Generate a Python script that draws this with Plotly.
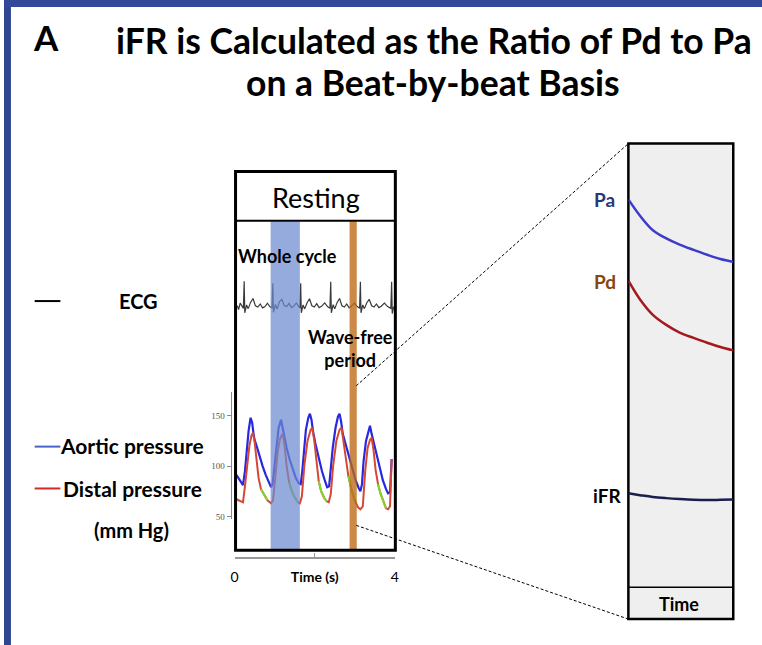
import plotly.graph_objects as go

W, H = 762, 645

# ---------------- data ----------------
# ECG (arbitrary units, baseline 0, R peak ~1)
ecg_t = [0.07, 0.10, 0.14, 0.18, 0.22, 0.24, 0.255, 0.30, 0.34, 0.40, 0.46, 0.52, 0.58, 0.64, 0.70, 0.76,
         0.82, 0.88, 0.935, 0.955, 0.97, 1.02, 1.06, 1.12, 1.18, 1.24, 1.30, 1.36, 1.42, 1.48, 1.54, 1.60,
         1.63, 1.65, 1.665, 1.71, 1.75, 1.81, 1.87, 1.93, 1.99, 2.05, 2.11, 2.17, 2.25, 2.32, 2.38, 2.40,
         2.415, 2.46, 2.50, 2.56, 2.62, 2.68, 2.74, 2.80, 2.86, 2.92, 2.99, 3.06, 3.12, 3.14, 3.155, 3.20,
         3.24, 3.30, 3.36, 3.42, 3.48, 3.54, 3.60, 3.66, 3.74, 3.82, 3.90, 3.92, 3.935, 3.97]
ecg_v = [0.05, -0.10, 0.15, 0.02, -0.05, 1.00, -0.22, 0.08, -0.06, 0.18, 0.33, 0.05, 0.00, 0.12, -0.03, 0.02,
         0.15, 0.02, -0.04, 0.92, -0.20, 0.10, -0.08, 0.20, 0.30, 0.06, 0.02, 0.14, -0.02, 0.04, 0.16, 0.03,
         -0.04, 0.92, -0.22, 0.08, -0.07, 0.17, 0.32, 0.05, 0.00, 0.13, -0.02, 0.03, 0.16, 0.02, -0.05, 0.98,
         -0.22, 0.09, -0.07, 0.18, 0.33, 0.05, 0.00, 0.12, -0.03, 0.04, 0.15, 0.02, -0.05, 0.98, -0.22, 0.08,
         -0.06, 0.17, 0.30, 0.05, 0.00, 0.12, -0.02, 0.03, 0.15, 0.02, -0.05, 0.98, -0.25, 0.02]

# Aortic pressure (mm Hg)
aortic_t = [0.05, 0.12, 0.21, 0.26, 0.30, 0.35, 0.40, 0.44, 0.47, 0.50, 0.55, 0.62, 0.70, 0.78, 0.86, 0.91,
            0.95, 1.00, 1.05, 1.10, 1.16, 1.20, 1.24, 1.30, 1.38, 1.46, 1.53, 1.60, 1.65, 1.69, 1.73, 1.78,
            1.84, 1.88, 1.92, 1.96, 2.02, 2.10, 2.18, 2.25, 2.31, 2.36, 2.40, 2.45, 2.52, 2.58, 2.62, 2.66,
            2.70, 2.78, 2.86, 2.94, 3.02, 3.10, 3.14, 3.18, 3.22, 3.28, 3.34, 3.38, 3.42, 3.46, 3.54, 3.62,
            3.70, 3.78, 3.83, 3.88, 3.92]
aortic_v = [91, 86, 81, 95, 112, 135, 148, 143, 133, 126, 120, 110, 100, 91, 83, 79,
            82, 100, 122, 138, 146, 138, 128, 118, 106, 96, 88, 83, 82, 95, 118, 136,
            148, 152, 146, 134, 122, 108, 95, 86, 79, 80, 96, 118, 138, 149, 152, 144,
            132, 120, 108, 96, 86, 78, 75, 82, 105, 125, 136, 140, 132, 125, 112, 98,
            86, 77, 73, 74, 107]

# Distal pressure (mm Hg)
distal_t = [0.05, 0.10, 0.21, 0.26, 0.31, 0.37, 0.42, 0.46, 0.50, 0.55, 0.60, 0.66, 0.74, 0.82, 0.91,
            0.96, 1.02, 1.08, 1.14, 1.20, 1.25, 1.30, 1.36, 1.42, 1.50, 1.58, 1.63, 1.68, 1.74, 1.82, 1.90,
            1.94, 1.99, 2.05, 2.10, 2.16, 2.24, 2.30, 2.35, 2.40, 2.46, 2.54, 2.62, 2.67, 2.72, 2.78, 2.84,
            2.92, 3.00, 3.08, 3.14, 3.20, 3.26, 3.32, 3.38, 3.42, 3.47, 3.52, 3.58, 3.64, 3.72, 3.78, 3.83,
            3.88, 3.92]
distal_v = [67, 66, 64, 80, 100, 120, 130, 133, 124, 105, 88, 77, 71, 66, 63,
            66, 90, 115, 128, 132, 120, 100, 84, 76, 69, 64, 63, 70, 100, 125, 136,
            138, 125, 100, 85, 75, 68, 65, 64, 72, 100, 125, 136, 138, 125, 106, 90,
            76, 66, 59, 57, 60, 95, 118, 126, 128, 115, 96, 82, 73, 64, 58, 57,
            60, 107]

# Wave-free (diastolic) windows highlighted in green, seconds
wf_start = [0.62, 1.36, 2.07, 2.83, 3.58]
wf_end = [0.90, 1.60, 2.31, 3.05, 3.80]

# Highlighted bands (seconds)
whole_cycle = [0.90, 1.63]
wave_free = [2.87, 3.05]

# Zoomed wave-free period (right panel)
zoom_t = [2.870, 2.890, 2.912, 2.935, 2.958, 2.982, 3.005, 3.028, 3.050]
pa_zoom = [96.0, 92.6, 89.6, 87.9, 86.6, 85.5, 84.5, 83.6, 83.0]
pd_zoom = [79.1, 75.2, 72.0, 69.9, 68.3, 67.2, 66.2, 65.3, 64.6]
ifr_zoom = [0.800, 0.797, 0.794, 0.792, 0.7905, 0.7893, 0.7888, 0.7892, 0.7897]

pressure_ticks = [50, 100, 150]
time_ticks = [0, 2, 4]
time_ticktext = ["0", "<b>Time (s)</b>", "4"]

# ---------------- helpers ----------------
def X(px):
    return px / W


def Y(py):
    return 1 - py / H


FONT = "Lato"
BLUE = "rgb(40,40,225)"
RED = "rgb(214,72,52)"
GREEN = "rgb(125,215,45)"

fig = go.Figure()

# ECG
fig.add_trace(go.Scatter(x=ecg_t, y=ecg_v, xaxis="x2", yaxis="y2", mode="lines",
                         line=dict(color="#3a3a3a", width=1.2), hoverinfo="skip"))
# Pressures
fig.add_trace(go.Scatter(x=aortic_t, y=aortic_v, xaxis="x", yaxis="y", mode="lines",
                         line=dict(color=BLUE, width=2.2), name="Aortic pressure"))
fig.add_trace(go.Scatter(x=distal_t, y=distal_v, xaxis="x", yaxis="y", mode="lines",
                         line=dict(color=RED, width=2), name="Distal pressure"))
# green wave-free segments on the distal trace
gx, gy = [], []
for s, e in zip(wf_start, wf_end):
    for t, v in zip(distal_t, distal_v):
        if s <= t <= e:
            gx.append(t)
            gy.append(v)
    gx.append(None)
    gy.append(None)
fig.add_trace(go.Scatter(x=gx, y=gy, xaxis="x", yaxis="y", mode="lines",
                         line=dict(color=GREEN, width=2), connectgaps=False, hoverinfo="skip"))

# Right panel
fig.add_trace(go.Scatter(x=zoom_t, y=pa_zoom, xaxis="x3", yaxis="y3", mode="lines",
                         line=dict(color="rgb(60,60,200)", width=2.5, shape="spline"), name="Pa"))
fig.add_trace(go.Scatter(x=zoom_t, y=pd_zoom, xaxis="x3", yaxis="y3", mode="lines",
                         line=dict(color="rgb(165,25,30)", width=2.5, shape="spline"), name="Pd"))
fig.add_trace(go.Scatter(x=zoom_t, y=ifr_zoom, xaxis="x3", yaxis="y4", mode="lines",
                         line=dict(color="rgb(25,30,75)", width=2.5, shape="spline"), name="iFR"))

shapes = []
# blue frame
shapes.append(dict(type="rect", xref="paper", yref="paper", x0=0, x1=X(7), y0=-0.02, y1=1.01,
                   fillcolor="#30458f", line=dict(width=0), layer="below"))
shapes.append(dict(type="rect", xref="paper", yref="paper", x0=0, x1=1.01, y0=Y(7), y1=1.01,
                   fillcolor="#34489a", line=dict(width=0), layer="below"))
# right panel box (fill)
shapes.append(dict(type="rect", xref="paper", yref="paper", x0=X(631), x1=X(737), y0=Y(621), y1=Y(144),
                   fillcolor="#efefef", line=dict(color="black", width=2.5), layer="below"))
shapes.append(dict(type="line", xref="paper", yref="paper", x0=X(631), x1=X(737), y0=Y(589), y1=Y(589),
                   line=dict(color="black", width=1.5), layer="below"))
# bands (above traces, semi-transparent)
shapes.append(dict(type="rect", xref="x", yref="paper", x0=whole_cycle[0], x1=whole_cycle[1],
                   y0=Y(551), y1=Y(222), fillcolor="rgb(110,138,208)", opacity=0.72,
                   line=dict(width=0), layer="above"))
shapes.append(dict(type="rect", xref="x", yref="paper", x0=wave_free[0], x1=wave_free[1],
                   y0=Y(551), y1=Y(222), fillcolor="rgb(190,105,20)", opacity=0.78,
                   line=dict(width=0), layer="above"))
# left box
shapes.append(dict(type="rect", xref="paper", yref="paper", x0=X(234), x1=X(395.5), y0=Y(552), y1=Y(172),
                   line=dict(color="black", width=3), layer="above"))
shapes.append(dict(type="line", xref="paper", yref="paper", x0=X(234), x1=X(395.5), y0=Y(221.5), y1=Y(221.5),
                   line=dict(color="black", width=2), layer="above"))
# dashed zoom lines
shapes.append(dict(type="line", xref="paper", yref="paper", x0=X(356), y0=Y(387), x1=X(631), y1=Y(144),
                   line=dict(color="black", width=1, dash="3px,2px"), layer="above"))
shapes.append(dict(type="line", xref="paper", yref="paper", x0=X(356), y0=Y(527), x1=X(631), y1=Y(621),
                   line=dict(color="black", width=1, dash="3px,2px"), layer="above"))
# legend keys
for ypx, col in [(302, "black"), (448, "rgb(70,100,200)"), (490, "rgb(215,40,40)")]:
    shapes.append(dict(type="line", xref="paper", yref="paper", x0=X(31), x1=X(57), y0=Y(ypx), y1=Y(ypx),
                       line=dict(color=col, width=2), layer="above"))

ann = []


def txt(text, x, y, size, color="black", bold=True, xanchor="center"):
    ann.append(dict(text=("<b>%s</b>" % text) if bold else text, x=X(x), y=Y(y), xref="paper", yref="paper",
                    showarrow=False, xanchor=xanchor, yanchor="middle",
                    font=dict(family=FONT, size=size, color=color)))


txt("A", 42, 37, 35)
txt("iFR is Calculated as the Ratio of Pd to Pa", 435, 41, 35.5)
txt("on a Beat-by-beat Basis", 434, 83, 35.5)
txt("Resting", 315, 198, 27, bold=False)
txt("Whole cycle", 287, 257, 18)
txt("Wave-free<br>period", 350, 350, 18)
txt("ECG", 136, 302, 20)
txt("Aortic pressure", 55, 447, 21, xanchor="left")
txt("Distal pressure", 58, 490, 21, xanchor="left")
txt("(mm Hg)", 129, 532, 20)
txt("Pa", 607, 200, 19, color="rgb(40,55,120)")
txt("Pd", 607, 282, 19, color="rgb(135,70,15)")
txt("iFR", 609, 497, 19)
txt("Time", 682, 606, 18)

fig.update_layout(
    width=W, height=H, margin=dict(l=0, r=0, t=0, b=0),
    paper_bgcolor="white", plot_bgcolor="rgba(0,0,0,0)",
    showlegend=False, shapes=shapes, annotations=ann,
    font=dict(family=FONT),
    xaxis=dict(domain=[X(233), X(395)], range=[0, 4], anchor="free", position=Y(560),
               tickvals=time_ticks, ticktext=time_ticktext, ticks="inside", ticklen=5,
               tickcolor="#999", showline=True, linecolor="#999", linewidth=1.5,
               showgrid=False, zeroline=False, ticklabelstandoff=6,
               tickfont=dict(family=FONT, size=14, color="black")),
    yaxis=dict(domain=[Y(521), Y(393)], range=[47, 173.8], anchor="free", position=X(229),
               tickvals=pressure_ticks, ticks="outside", ticklen=4, tickcolor="#888",
               showline=True, linecolor="#888", linewidth=1, showgrid=False, zeroline=False,
               tickfont=dict(family="Liberation Sans Narrow", size=9, color="#555")),
    xaxis2=dict(domain=[X(233), X(395)], range=[0, 4], anchor="y2", visible=False),
    yaxis2=dict(domain=[Y(320), Y(275)], range=[-0.46, 1.27], anchor="x2", visible=False),
    xaxis3=dict(domain=[X(631), X(737)], range=[2.87, 3.05], anchor="y3", visible=False),
    yaxis3=dict(domain=[Y(589), Y(146)], range=[15.36, 107.2], anchor="x3", visible=False),
    yaxis4=dict(range=[0.643, 1.382], overlaying="y3", anchor="x3", visible=False),
)

fig.write_html("out.html", config={"displayModeBar": False},
               post_script="document.body.style.margin='0px';document.documentElement.style.overflow='hidden';")
